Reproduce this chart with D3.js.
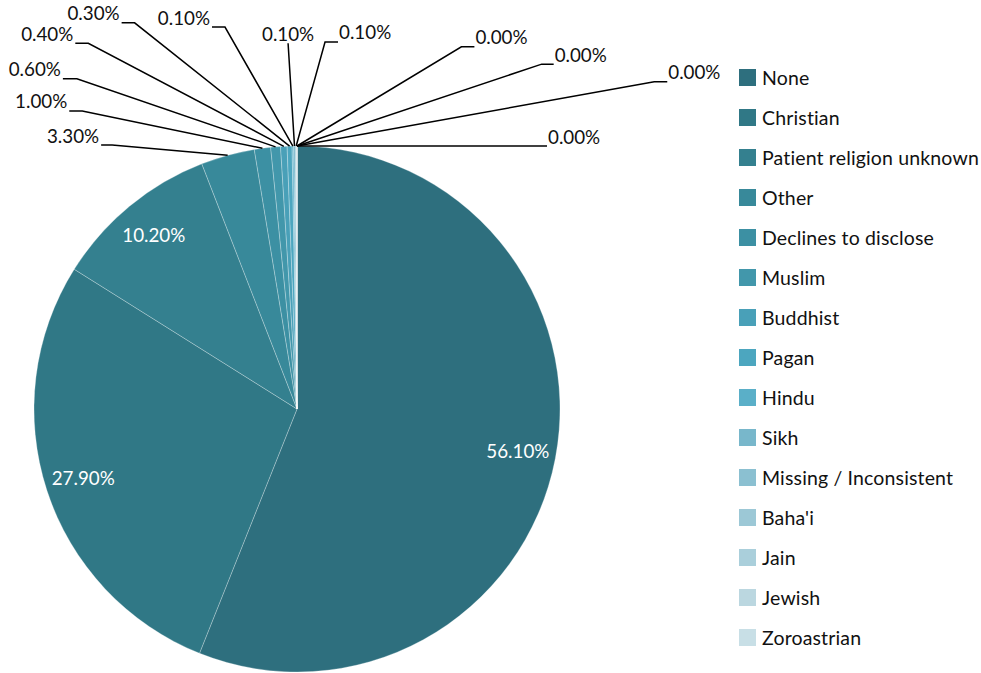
<!DOCTYPE html>
<html>
<head>
<meta charset="utf-8">
<script src="https://cdn.jsdelivr.net/npm/d3@7"></script>
<style>
  html, body { margin: 0; padding: 0; background: #ffffff; }
  svg { display: block; }
  text { font-family: Lato, "Open Sans", sans-serif; }
</style>
</head>
<body>
<svg id="chart" width="981" height="673"></svg>
<script>
// Patient religion breakdown (percent of patients)
const categories = [
  "None", "Christian", "Patient religion unknown", "Other", "Declines to disclose",
  "Muslim", "Buddhist", "Pagan", "Hindu", "Sikh", "Missing / Inconsistent",
  "Baha'i", "Jain", "Jewish", "Zoroastrian"
];
const shares = [56.1, 27.9, 10.2, 3.3, 1.0, 0.6, 0.4, 0.3, 0.1, 0.1, 0.1, 0.0, 0.0, 0.0, 0.0];
const palette = [
  "#2e6f7e", "#307886", "#34808f", "#38899a", "#3c90a3", "#4297ab", "#49a0b8", "#4ca6bf",
  "#5aafc8", "#78b7cb", "#8bc0d1", "#9cc8d6", "#aacfdb", "#bbd7e0", "#c8dfe6"
];

// Leader-line layout for the small slices drawn outside the pie:
// direction (degrees clockwise from 12 o'clock), length of the diagonal,
// and the horizontal tick (negative = to the left, 0 = label centred on the line).
const leaderAngle  = [-84.9, -78.3, -71.1, -62.2, -51.5, -29.7, -3.6, 15.5, 58.9, 71.5, 79.8, 90];
const leaderLength = [116, 184, 210, 221, 198, 137, 103, 108, 192, 258, 363, 238];
const leaderTick   = [-11, -13, -14, -13, -13, -13, 0, 13, 13, 12, 13, 12];

const svg = d3.select("#chart");
const cx = 297, cy = 409, radius = 263;
const fmt = v => v.toFixed(2) + "%";

const data = categories.map((name, i) => ({ name, value: shares[i], color: palette[i] }));

const pie = d3.pie().sort(null).value(d => d.value).startAngle(0).endAngle(2 * Math.PI);
const arcs = pie(data);
const arc = d3.arc().innerRadius(0).outerRadius(radius);
const labelArc = d3.arc().innerRadius(radius * 0.855).outerRadius(radius * 0.855);

const g = svg.append("g").attr("transform", `translate(${cx},${cy})`);

g.selectAll("path.slice")
  .data(arcs)
  .join("path")
  .attr("class", "slice")
  .attr("d", arc)
  .attr("fill", d => d.data.color)
  .attr("stroke", "rgba(255,255,255,0.45)")
  .attr("stroke-width", 0.6);

// Large slices: value written inside
const inside = arcs.filter(d => d.data.value >= 5);
g.selectAll("text.inner")
  .data(inside)
  .join("text")
  .attr("class", "inner")
  .attr("transform", d => `translate(${labelArc.centroid(d)})`)
  .attr("text-anchor", "middle")
  .attr("dy", "0.35em")
  .attr("fill", "#ffffff")
  .attr("font-size", 18.8)
  .text(d => fmt(d.data.value));

// Small slices: value written outside with a leader line
const outside = arcs.filter(d => d.data.value < 5);
const lines = g.append("g").attr("class", "leaders");
outside.forEach((d, i) => {
  const mid = (d.startAngle + d.endAngle) / 2;
  const sx = radius * Math.sin(mid), sy = -radius * Math.cos(mid);
  const a = leaderAngle[i] * Math.PI / 180;
  const ex = sx + leaderLength[i] * Math.sin(a);
  const ey = sy - leaderLength[i] * Math.cos(a);
  const tx = ex + leaderTick[i];
  lines.append("polyline")
    .attr("points", [[sx, sy], [ex, ey], [tx, ey]].map(p => p.join(",")).join(" "))
    .attr("fill", "none")
    .attr("stroke", "#000000")
    .attr("stroke-width", 1.5);
  const t = leaderTick[i];
  lines.append("text")
    .attr("x", t < 0 ? tx - 2 : t > 0 ? tx + 1 : tx)
    .attr("y", ey - 2.5)
    .attr("text-anchor", t < 0 ? "end" : t > 0 ? "start" : "middle")
    .attr("fill", "#111111")
    .attr("font-size", 18.8)
    .text(fmt(d.data.value));
});

// Legend
const legend = svg.append("g").attr("transform", "translate(739,69)");
const item = legend.selectAll("g.item")
  .data(data)
  .join("g")
  .attr("class", "item")
  .attr("transform", (d, i) => `translate(0,${i * 40})`);
item.append("rect")
  .attr("width", 17).attr("height", 17)
  .attr("fill", d => d.color);
item.append("text")
  .attr("x", 23).attr("y", 9)
  .attr("dy", "0.36em")
  .attr("fill", "#111111")
  .attr("font-size", 19.5)
  .attr("letter-spacing", 0.15)
  .text(d => d.name);
</script>
</body>
</html>
